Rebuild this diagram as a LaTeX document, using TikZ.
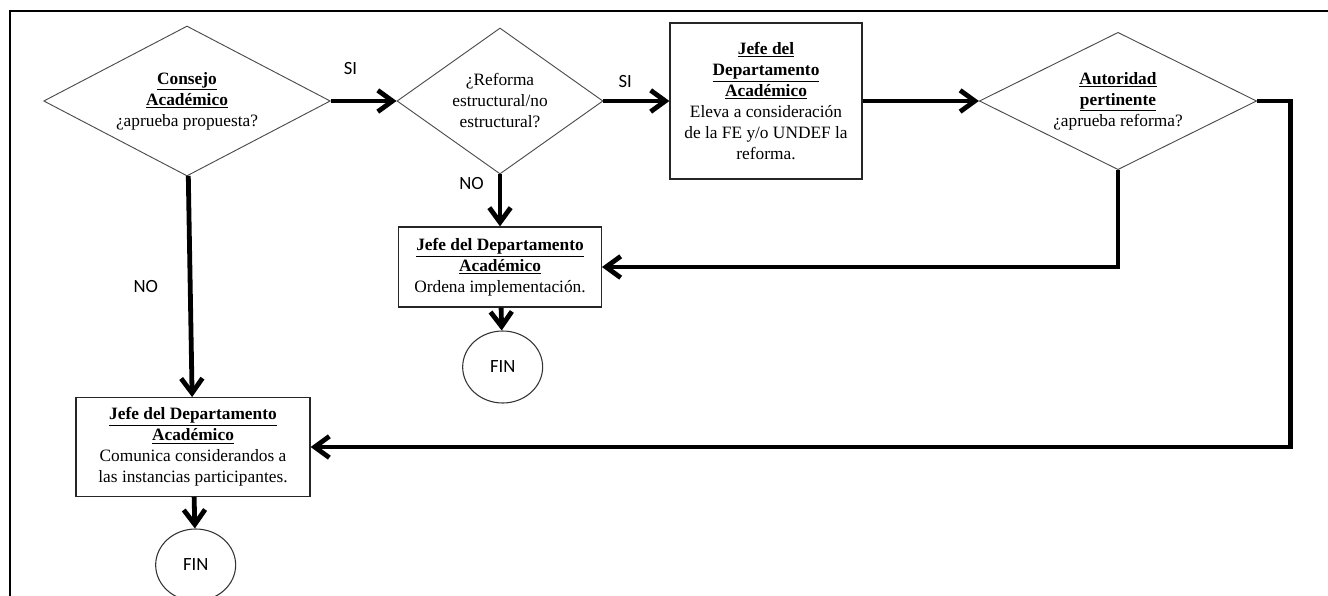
\documentclass[tikz,border=0pt]{standalone}
\usepackage{fontspec}
\setmainfont{Liberation Serif}
\newfontfamily\labelfont{Carlito}
\usepackage{tikz}
\usetikzlibrary{arrows.meta,shapes.geometric}
\usetikzlibrary{positioning}

\begin{document}
\begin{tikzpicture}[x=0.75pt,y=-0.75pt,>={Straight Barb[length=11pt,width=16pt]},auto,
                    semithick,font=\fontsize{13}{15.75}\selectfont]
 				 \tikzstyle{decision}=[draw=black!70,line width=0.7pt,diamond,align=center,inner sep=1pt]
 				 \tikzstyle{block}=[draw=black!85,line width=0.9pt,rectangle,align=center,inner sep=2pt]
 				 \tikzstyle{stop}=[draw=black!80,line width=0.8pt,ellipse,minimum width=60pt,minimum height=54pt,
 				                   font=\labelfont\fontsize{14}{16}\selectfont]
 				 \tikzstyle{flow}=[->,line width=3.6pt]
 				 \tikzstyle{lbl}=[font=\labelfont\fontsize{14}{16}\selectfont]
 				 \useasboundingbox (0,0) rectangle (1328,596);
 				 \draw[line width=1.5pt] (1328,11) -- (10,11) -- (10,596);
 					 \node[decision,aspect=1.9,minimum width=215pt,minimum height=112.5pt] (CA) at (187,101)
 					       {\underline{\textbf{Consejo}}\\\underline{\textbf{Académico}}\\¿aprueba propuesta?};
  					 \node[decision,aspect=1.41,minimum width=154.5pt,minimum height=109.5pt] (RE)
  					       [right of=CA,node distance=234.75pt] {¿Reforma\\estructural/no\\estructural?};
  					 \node[block,minimum width=144pt,minimum height=117pt] (EL) [right of=RE,node distance=199.5pt]
  					       {\underline{\textbf{Jefe del}}\\\underline{\textbf{Departamento}}\\\underline{\textbf{Académico}}\\
  					        Eleva a consideración\\de la FE y/o UNDEF la\\reforma.};
  					 \node[decision,aspect=2.02,minimum width=208pt,minimum height=103pt] (AP)
  					       [right of=EL,node distance=264pt]
  					       {\underline{\textbf{Autoridad}}\\\underline{\textbf{pertinente}}\\¿aprueba reforma?};
  					 \node[block,minimum width=152pt,minimum height=60pt] (OI) [below of=RE,node distance=124.5pt]
  					       {\underline{\textbf{Jefe del Departamento}}\\\underline{\textbf{Académico}}\\Ordena implementación.};
  					 \node[stop] (F1) [below of=OI,node distance=75pt,xshift=2pt] {FIN};
  					 \node[block,minimum width=175.5pt,minimum height=74pt] (CO) [below of=CA,node distance=259.5pt,xshift=4.5pt]
  					       {\underline{\textbf{Jefe del Departamento}}\\\underline{\textbf{Académico}}\\
  					        Comunica considerandos a\\las instancias participantes.};
  					 \node[stop] (F2) [below of=CO,node distance=88.5pt,xshift=2pt] {FIN};
 					 \path (CA) edge[flow] node[lbl,pos=.3,above=15pt] {SI} (RE)
 					 		 	(RE) edge[flow] node[lbl,pos=.33,above=5pt] {SI} (EL)
 					 			(EL) edge[flow] (AP)
 					 			(RE) edge[flow] node[lbl,pos=.17,left=7pt] {NO} (OI)
 					 			(CA) edge[flow] node[lbl,pos=.5,left=19pt] {NO} (CO)
 					 			(OI) edge[flow] (F1)
 					 			(CO) edge[flow] (F2);
 					 \draw[flow] (AP.south) |- (OI.east);
 					 \draw[flow] (AP.east) -- ++(25pt,0) |- (CO.east);
				\end{tikzpicture}
\end{document}
